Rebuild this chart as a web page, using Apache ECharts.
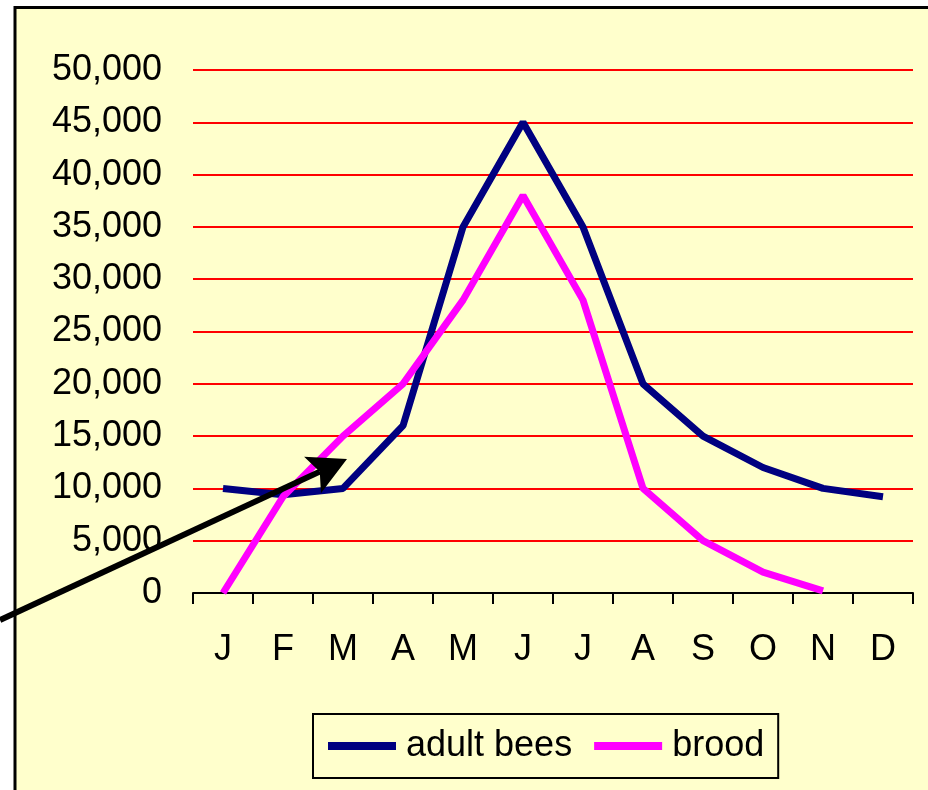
<!DOCTYPE html>
<html>
<head>
<meta charset="utf-8">
<script src="https://cdn.jsdelivr.net/npm/echarts@6/dist/echarts.min.js"></script>
<style>
html,body{margin:0;padding:0;background:#ffffff;}
#chart{width:928px;height:790px;}
</style>
</head>
<body>
<div id="chart"></div>
<script>
// ---- data ----
var months = ['J','F','M','A','M','J','J','A','S','O','N','D'];
var adultBees = [10000, 9400, 10000, 16000, 35000, 45000, 35000, 20000, 15000, 12000, 10000, 9200];
var brood = [0, 9200, 15000, 20000, 28000, 38000, 28000, 10000, 5000, 2000, 200, null];
var seriesNames = ['adult bees', 'brood'];
var yMin = 0, yMax = 50000, yStep = 5000;

var FONT = '"Liberation Sans", Arial, sans-serif';
var chart = echarts.init(document.getElementById('chart'), null, {renderer: 'canvas'});

// arrow annotation geometry (decoration, not data)
var tail = [0, 620], tip = [347, 459];
var dx = tip[0] - tail[0], dy = tip[1] - tail[1];
var len = Math.sqrt(dx * dx + dy * dy);
var ux = dx / len, uy = dy / len, nx = -uy, ny = ux;
var headL = 38, headW = 20, notch = 8;
var baseC = [tip[0] - headL * ux, tip[1] - headL * uy];
var c1 = [baseC[0] + headW * nx, baseC[1] + headW * ny];
var c2 = [baseC[0] - headW * nx, baseC[1] - headW * ny];
var nPt = [baseC[0] + notch * ux, baseC[1] + notch * uy];

chart.setOption({
  backgroundColor: '#ffffff',
  animation: false,
  textStyle: {fontFamily: FONT},
  graphic: [
    {type: 'rect', z: -10, silent: true,
     shape: {x: 15, y: 7.5, width: 1000, height: 1000},
     style: {fill: '#FFFFCC', stroke: '#000000', lineWidth: 3}},
    {type: 'line', z: 100, silent: true,
     shape: {x1: tail[0], y1: tail[1], x2: nPt[0], y2: nPt[1]},
     style: {stroke: '#000000', lineWidth: 6}},
    {type: 'polygon', z: 100, silent: true,
     shape: {points: [tip, c1, nPt, c2]},
     style: {fill: '#000000'}}
  ],
  grid: {left: 193, right: 15, top: 70, bottom: 197, containLabel: false},
  legend: {
    data: seriesNames,
    left: 313, top: 714,
    orient: 'horizontal',
    backgroundColor: '#FFFFCC',
    borderColor: '#000000', borderWidth: 2, borderRadius: 0,
    padding: [14, 14, 14, 15],
    icon: 'rect',
    itemWidth: 68, itemHeight: 8,
    itemGap: 22,
    textStyle: {fontFamily: FONT, fontSize: 36, color: '#000000', padding: [0, 0, 0, 5]}
  },
  xAxis: {
    type: 'category',
    data: months,
    boundaryGap: true,
    axisLine: {show: true, lineStyle: {color: '#000000', width: 2}},
    axisTick: {show: true, length: 11, interval: 0, lineStyle: {color: '#000000', width: 2}},
    axisLabel: {interval: 0, margin: 39, fontSize: 36, color: '#000000', fontFamily: FONT},
    splitLine: {show: false}
  },
  yAxis: {
    type: 'value',
    min: yMin, max: yMax, interval: yStep,
    axisLine: {show: false},
    axisTick: {show: false},
    axisLabel: {
      margin: 31, fontSize: 36, color: '#000000', fontFamily: FONT,
      formatter: function (v) { return String(v).replace(/\B(?=(\d{3})+(?!\d))/g, ','); }
    },
    splitLine: {show: true, lineStyle: {color: '#FF0000', width: 2}}
  },
  series: [
    {name: seriesNames[0], type: 'line', data: adultBees, symbol: 'none',
     color: '#000080', lineStyle: {color: '#000080', width: 7}, z: 3},
    {name: seriesNames[1], type: 'line', data: brood, symbol: 'none',
     color: '#FF00FF', lineStyle: {color: '#FF00FF', width: 7}, z: 4}
  ]
});
</script>
</body>
</html>
